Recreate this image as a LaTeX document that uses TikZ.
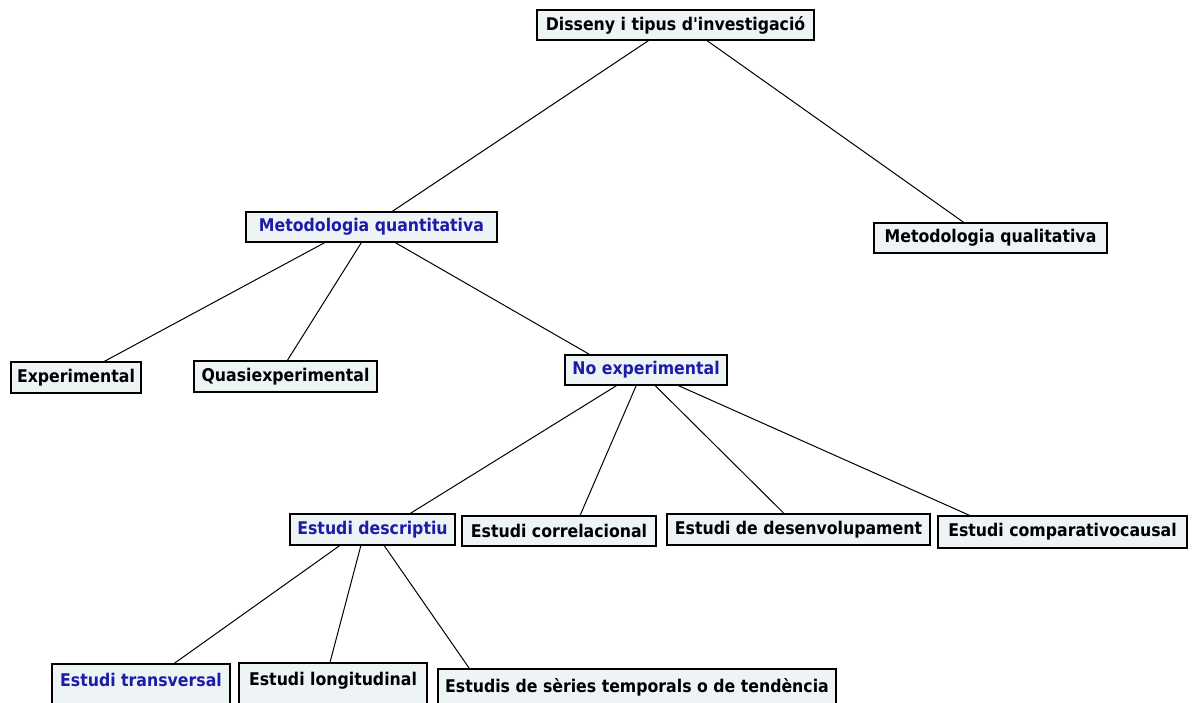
\documentclass[tikz,border=0pt]{standalone}
\usepackage{fontspec}
\newfontfamily\boxfont{DejaVu Sans}[FakeStretch=0.9]
\usetikzlibrary{shadows,calc}
\definecolor{boxfill}{HTML}{EEF3F6}
\definecolor{bluetxt}{HTML}{1C1CA8}
\tikzset{
  box/.style={draw=black, line width=1.1pt, fill=boxfill, inner sep=0pt,
    font=\boxfont\fontsize{17.5}{19}\selectfont\bfseries, text=black,
    drop shadow={shadow xshift=1.2pt, shadow yshift=-1.2pt, fill=black!70, opacity=1}},
  bluebox/.style={box, text=bluetxt},
  link/.style={draw=black, line width=1pt}
}
\begin{document}
\begin{tikzpicture}[x=1pt,y=-1pt]
\useasboundingbox (0,0) rectangle (1192,702);
\clip (0,0) rectangle (1192,702);
\node[box, minimum width=277pt, minimum height=30pt] (root) at (675.5,25) {Disseny i tipus d'investigació};
\node[bluebox, minimum width=251pt, minimum height=30pt] (mquant) at (371.5,227) {Metodologia quantitativa};
\node[box, minimum width=233pt, minimum height=30pt] (mqual) at (990.5,238) {Metodologia qualitativa};
\node[box, minimum width=130pt, minimum height=31pt] (exp) at (76,377.5) {Experimental};
\node[box, minimum width=183pt, minimum height=31pt] (quasi) at (285.5,376.5) {Quasiexperimental};
\node[bluebox, minimum width=162pt, minimum height=30pt] (noexp) at (646,370) {No experimental};
\node[bluebox, minimum width=165pt, minimum height=31pt] (desc) at (372.5,529.5) {Estudi descriptiu};
\node[box, minimum width=194pt, minimum height=30pt] (corr) at (559,531) {Estudi correlacional};
\node[box, minimum width=263pt, minimum height=31pt] (desenv) at (798.5,529.5) {Estudi de desenvolupament};
\node[box, minimum width=249pt, minimum height=32pt] (comp) at (1062.5,532) {Estudi comparativocausal};
\node[bluebox, minimum width=178pt, minimum height=52pt, text depth=20pt] (transv) at (141,690) {Estudi transversal};
\node[box, minimum width=188pt, minimum height=52pt, text depth=20pt] (longit) at (333,689) {Estudi longitudinal};
\node[box, minimum width=398pt, minimum height=52pt, text depth=20pt] (series) at (637,695) {Estudis de sèries temporals o de tendència};

\draw[link] ($(root.south west)!0.403!(root.south east)$) -- ($(mquant.north west)!0.582!(mquant.north east)$);
\draw[link] ($(root.south west)!0.613!(root.south east)$) -- ($(mqual.north west)!0.386!(mqual.north east)$);
\draw[link] ($(mquant.south west)!0.315!(mquant.south east)$) -- ($(exp.north west)!0.715!(exp.north east)$);
\draw[link] ($(mquant.south west)!0.46!(mquant.south east)$) -- ($(quasi.north west)!0.51!(quasi.north east)$);
\draw[link] ($(mquant.south west)!0.594!(mquant.south east)$) -- ($(noexp.north west)!0.154!(noexp.north east)$);
\draw[link] ($(noexp.south west)!0.32!(noexp.south east)$) -- ($(desc.north west)!0.727!(desc.north east)$);
\draw[link] ($(noexp.south west)!0.44!(noexp.south east)$) -- ($(corr.north west)!0.608!(corr.north east)$);
\draw[link] ($(noexp.south west)!0.556!(noexp.south east)$) -- ($(desenv.north west)!0.445!(desenv.north east)$);
\draw[link] ($(noexp.south west)!0.698!(noexp.south east)$) -- ($(comp.north west)!0.129!(comp.north east)$);
\draw[link] ($(desc.south west)!0.303!(desc.south east)$) -- ($(transv.north west)!0.685!(transv.north east)$);
\draw[link] ($(desc.south west)!0.43!(desc.south east)$) -- ($(longit.north west)!0.484!(longit.north east)$);
\draw[link] ($(desc.south west)!0.57!(desc.south east)$) -- ($(series.north west)!0.08!(series.north east)$);
\end{tikzpicture}
\end{document}
